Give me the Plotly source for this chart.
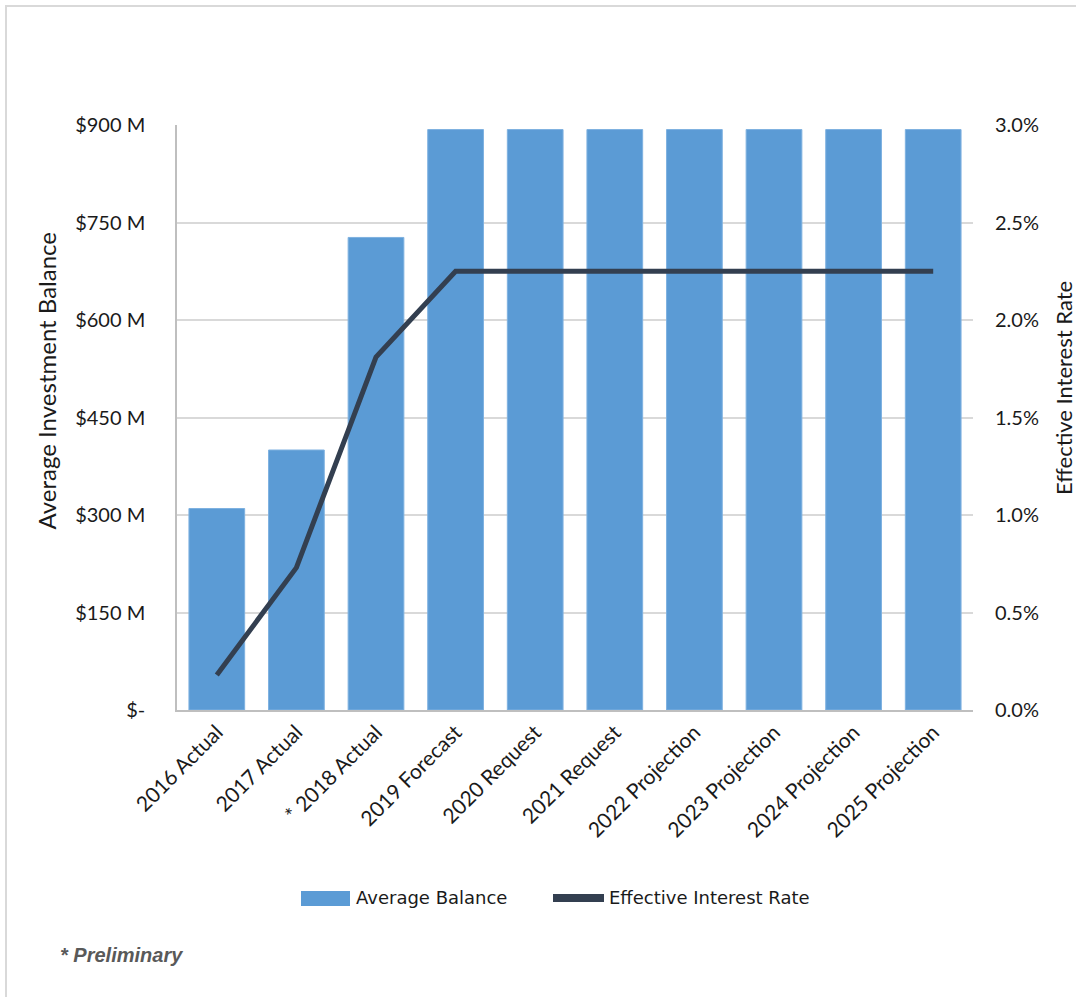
import plotly.graph_objects as go

categories = ["2016 Actual", "2017 Actual", "* 2018 Actual", "2019 Forecast", "2020 Request",
              "2021 Request", "2022 Projection", "2023 Projection", "2024 Projection", "2025 Projection"]
average_balance = [310, 400, 727, 893, 893, 893, 893, 893, 893, 893]
interest_rate = [0.0018, 0.0073, 0.0181, 0.0225, 0.0225, 0.0225, 0.0225, 0.0225, 0.0225, 0.0225]
left_tickvals = [0, 150, 300, 450, 600, 750, 900]
left_ticktext = ["$-", "$150 M", "$300 M", "$450 M", "$600 M", "$750 M", "$900 M"]
right_tickvals = [0, 0.005, 0.01, 0.015, 0.02, 0.025, 0.03]
series_names = ["Average Balance", "Effective Interest Rate"]

BAR_COLOR = "#5B9BD5"
LINE_COLOR = "#333F50"

W, H = 1076, 997
L, R, T, B = 177, 103, 125, 287
pw, ph = W - L - R, H - T - B


def px_x(px):
    return (px - L) / pw


def px_y(py):
    return (H - B - py) / ph


tick_font = dict(family="Lato", size=20, color="#1a1a1a")
legend_font = dict(family="DejaVu Sans", size=18, color="#1a1a1a")

fig = go.Figure()
fig.add_trace(go.Bar(
    x=categories, y=average_balance, name=series_names[0],
    marker=dict(color=BAR_COLOR, line=dict(color="#7EB1E0", width=1)),
    yaxis="y", showlegend=False,
))
fig.add_trace(go.Scatter(
    x=categories, y=interest_rate, name=series_names[1],
    mode="lines", line=dict(color=LINE_COLOR, width=5),
    yaxis="y2", showlegend=False,
))

fig.update_layout(
    width=W, height=H,
    margin=dict(l=L, r=R, t=T, b=B, pad=0),
    paper_bgcolor="white", plot_bgcolor="white",
    bargap=0.3,
    showlegend=False,
    xaxis=dict(
        tickangle=-45, tickfont=dict(family="Lato", size=21, color="#1a1a1a"),
        showgrid=False, showline=True, linecolor="#BFBFBF", linewidth=1.5, ticks="",
    ),
    yaxis=dict(
        range=[0, 900], tickvals=left_tickvals, ticktext=left_ticktext,
        tickfont=tick_font, showgrid=True, gridcolor="#D9D9D9", gridwidth=1.5,
        showline=True, linecolor="#BFBFBF", linewidth=1.5, ticks="",
        zeroline=False, ticklabelstandoff=26,
    ),
    yaxis2=dict(
        range=[0, 0.03], tickvals=right_tickvals, tickformat=".1%",
        tickfont=tick_font, overlaying="y", side="right", showgrid=False,
        showline=False, ticks="", zeroline=False, ticklabelstandoff=21,
    ),
    annotations=[
        dict(text="Average Investment Balance", xref="paper", yref="paper",
             x=px_x(45.5), y=px_y(381), textangle=-90, showarrow=False,
             xanchor="center", yanchor="middle",
             font=dict(family="Lato", size=24, color="#1a1a1a")),
        dict(text="Effective Interest Rate", xref="paper", yref="paper",
             x=px_x(1063), y=px_y(388), textangle=-90, showarrow=False,
             xanchor="center", yanchor="middle",
             font=dict(family="Lato", size=22, color="#1a1a1a")),
        dict(text="<b><i>* Preliminary</i></b>", xref="paper", yref="paper",
             x=px_x(58), y=px_y(955), showarrow=False,
             xanchor="left", yanchor="middle",
             font=dict(family="Liberation Sans", size=20, color="#595959")),
        dict(text=series_names[0], xref="paper", yref="paper",
             x=px_x(354), y=px_y(897), showarrow=False,
             xanchor="left", yanchor="middle", font=legend_font),
        dict(text=series_names[1], xref="paper", yref="paper",
             x=px_x(607), y=px_y(897), showarrow=False,
             xanchor="left", yanchor="middle", font=legend_font),
    ],
    shapes=[
        dict(type="rect", xref="paper", yref="paper", layer="below",
             x0=px_x(6), x1=px_x(1090), y0=px_y(1010), y1=px_y(6),
             line=dict(color="#D9D9D9", width=2), fillcolor="rgba(0,0,0,0)"),
        # legend swatches
        dict(type="rect", xref="paper", yref="paper",
             x0=px_x(301), x1=px_x(350), y0=px_y(906), y1=px_y(891),
             line=dict(width=0), fillcolor=BAR_COLOR),
        dict(type="line", xref="paper", yref="paper",
             x0=px_x(553), x1=px_x(604), y0=px_y(898), y1=px_y(898),
             line=dict(color=LINE_COLOR, width=8)),
    ],
)

fig.write_html("out.html")
